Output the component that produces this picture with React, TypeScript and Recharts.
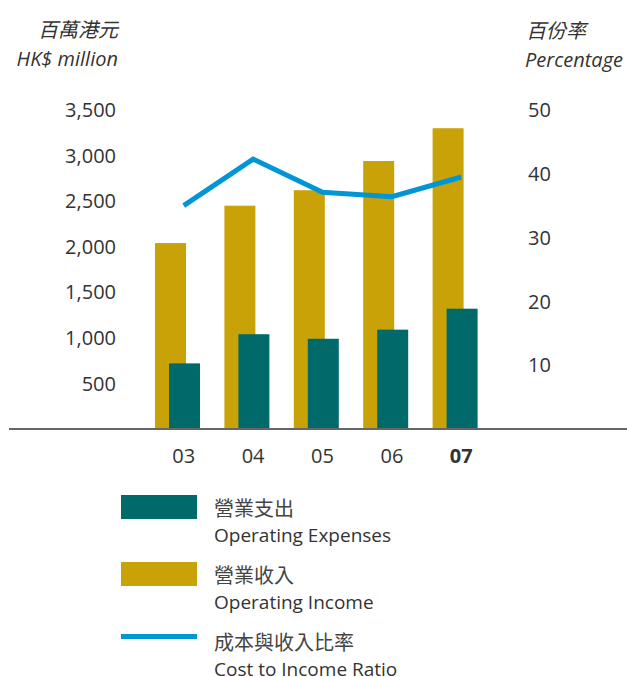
import { Bar, ComposedChart, Line, XAxis, YAxis } from "recharts";

const years = ["03", "04", "05", "06", "07"];
const operatingIncome = [2040, 2450, 2620, 2940, 3300];
const operatingExpenses = [720, 1040, 990, 1090, 1320];
const costToIncomeRatio = [35, 42.3, 37.1, 36.4, 39.5];

const leftTicks = [500, 1000, 1500, 2000, 2500, 3000, 3500];
const rightTicks = [10, 20, 30, 40, 50];

const legendZh = ["營業支出", "營業收入", "成本與收入比率"];
const legendEn = ["Operating Expenses", "Operating Income", "Cost to Income Ratio"];

const GOLD = "#c9a207";
const TEAL = "#006a6b";
const BLUE = "#0096d6";
const TEXT = "#333333";
const FONT = '"Open Sans", "Noto Sans CJK TC", sans-serif';
const BAR_SHIFT = -6;

const chartData = years.map((year, i) => ({
  year,
  income: operatingIncome[i],
  expenses: operatingExpenses[i],
  ratio: costToIncomeRatio[i]
}));

const legendKinds = [
  { color: TEAL, line: false },
  { color: GOLD, line: false },
  { color: BLUE, line: true }
];

function ShiftedBar(props: any) {
  const { x, y, width, height, fill } = props;
  return <rect x={x + BAR_SHIFT} y={y} width={width} height={height} fill={fill} />;
}

function LeftTick(props: any) {
  const { x, y, payload } = props;
  return (
    <text x={x} y={y} dy="0.355em" textAnchor="end" fill={TEXT} fontSize={20} fontFamily={FONT}>
      {Number(payload.value).toLocaleString("en-US")}
    </text>
  );
}

function RightTick(props: any) {
  const { x, y, payload } = props;
  return (
    <text x={x} y={y} dy="0.355em" textAnchor="start" fill={TEXT} fontSize={20} fontFamily={FONT}>
      {payload.value}
    </text>
  );
}

function YearTick(props: any) {
  const { x, y, payload } = props;
  const bold = payload.value === years[years.length - 1];
  return (
    <text
      x={x}
      y={y}
      dy="0.71em"
      textAnchor="middle"
      fill={TEXT}
      fontSize={20}
      fontWeight={bold ? 700 : 400}
      fontFamily={FONT}
    >
      {payload.value}
    </text>
  );
}

const titleStyle = {
  position: "absolute" as const,
  fontFamily: FONT,
  fontStyle: "italic",
  fontSize: 20,
  lineHeight: "24px",
  color: TEXT,
  whiteSpace: "nowrap" as const
};

export default function App() {
  return (
    <div style={{ position: "absolute", left: 0, top: 0, width: 627, height: 677, background: "#fff" }}>
      <div style={{ ...titleStyle, right: 627 - 118, top: 18 }}>百萬港元</div>
      <div style={{ ...titleStyle, right: 627 - 118, top: 47 }}>HK$ million</div>
      <div style={{ ...titleStyle, left: 526, top: 19 }}>百份率</div>
      <div style={{ ...titleStyle, left: 525, top: 48 }}>Percentage</div>

      <div style={{ position: "absolute", left: 0, top: 0 }}>
        <ComposedChart
          width={627}
          height={480}
          data={chartData}
          margin={{ top: 110, right: 0, bottom: 11, left: 9 }}
          barSize={31}
          barGap={-17}
        >
          <XAxis
            dataKey="year"
            height={40}
            padding={{ left: 140, right: 131 }}
            axisLine={{ stroke: "#666", strokeWidth: 2 }}
            tickLine={false}
            tickSize={6}
            tickMargin={14}
            tick={<YearTick />}
          />
          <YAxis
            yAxisId="left"
            orientation="left"
            width={1}
            mirror
            domain={[0, 3500]}
            ticks={leftTicks}
            axisLine={false}
            tickLine={false}
            tickSize={0}
            tickMargin={107}
            tick={<LeftTick />}
          />
          <YAxis
            yAxisId="right"
            orientation="right"
            width={1}
            mirror
            domain={[0, 50]}
            ticks={rightTicks}
            axisLine={false}
            tickLine={false}
            tickSize={0}
            tickMargin={99}
            tick={<RightTick />}
          />
          <Bar yAxisId="left" dataKey="income" fill={GOLD} shape={<ShiftedBar />} isAnimationActive={false} />
          <Bar yAxisId="left" dataKey="expenses" fill={TEAL} shape={<ShiftedBar />} isAnimationActive={false} />
          <Line
            yAxisId="right"
            type="linear"
            dataKey="ratio"
            stroke={BLUE}
            strokeWidth={5}
            dot={false}
            activeDot={false}
            isAnimationActive={false}
          />
        </ComposedChart>
      </div>

      {legendZh.map((zh, i) => {
        const top = 495 + i * 67;
        const kind = legendKinds[i];
        return (
          <div key={zh}>
            {kind.line ? (
              <div style={{ position: "absolute", left: 121, top: top + 5, width: 76, height: 5, background: kind.color }} />
            ) : (
              <div style={{ position: "absolute", left: 121, top, width: 76, height: 24, background: kind.color }} />
            )}
            <div
              style={{
                position: "absolute",
                left: 214,
                top: top + 6,
                fontFamily: FONT,
                fontSize: 20,
                lineHeight: "16px",
                color: "#444",
                whiteSpace: "nowrap"
              }}
            >
              {zh}
            </div>
            <div
              style={{
                position: "absolute",
                left: 214,
                top: top + 32,
                fontFamily: FONT,
                fontSize: 19,
                lineHeight: "16px",
                color: TEXT,
                whiteSpace: "nowrap"
              }}
            >
              {legendEn[i]}
            </div>
          </div>
        );
      })}
    </div>
  );
}
